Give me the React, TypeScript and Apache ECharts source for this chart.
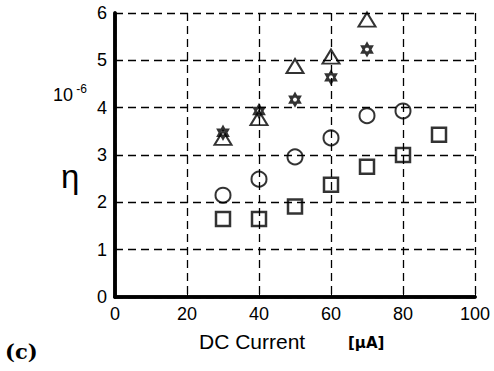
import React, { useEffect, useRef } from "react";
import * as echarts from "echarts";

const xTicks = [0, 20, 40, 60, 80, 100];
const yTicks = [0, 1, 2, 3, 4, 5, 6];

const triangleX = [30, 40, 50, 60, 70];
const triangleY = [3.36, 3.78, 4.88, 5.08, 5.86];
const starX = [30, 40, 50, 60, 70];
const starY = [3.47, 3.93, 4.17, 4.64, 5.23];
const circleX = [30, 40, 50, 60, 70, 80];
const circleY = [2.15, 2.49, 2.96, 3.36, 3.83, 3.93];
const squareX = [30, 40, 50, 60, 70, 80, 90];
const squareY = [1.65, 1.65, 1.91, 2.37, 2.75, 3.0, 3.43];

const hexagram =
  "path://M0,-1 L0.866,0.5 L-0.866,0.5 Z M0,1 L0.866,-0.5 L-0.866,-0.5 Z";

const pairs = (xs: number[], ys: number[]) => xs.map((x, i) => [x, ys[i]]);

const FONT = "Liberation Sans";

export default function App() {
  const ref = useRef<HTMLDivElement>(null);
  useEffect(() => {
    document.body.style.margin = "0";
    if (!ref.current) return;
    const chart = echarts.init(ref.current, null, { renderer: "svg" });
    const gridLine = {
      show: true,
      lineStyle: { color: "#000", type: [8, 5] as any, width: 1.3 },
    };
    const frameAxis = {
      type: "value",
      axisLine: { show: true, lineStyle: { color: "#000", width: 3.5 } },
      axisTick: { show: false },
      axisLabel: { show: false },
      splitLine: { show: false },
    };
    chart.setOption({
      animation: false,
      backgroundColor: "#fff",
      grid: { left: 115, right: 19, top: 13, bottom: 74 },
      xAxis: [
        {
          type: "value",
          min: xTicks[0],
          max: xTicks[xTicks.length - 1],
          interval: 20,
          axisLine: { show: true, lineStyle: { color: "#000", width: 3.5 } },
          axisTick: { show: true, inside: true, length: 5, lineStyle: { color: "#000", width: 1 } },
          axisLabel: { color: "#000", fontSize: 18, fontFamily: FONT, margin: 8 },
          splitLine: gridLine,
        },
        { ...frameAxis, position: "top", min: 0, max: 100 },
      ],
      yAxis: [
        {
          type: "value",
          min: yTicks[0],
          max: yTicks[yTicks.length - 1],
          interval: 1,
          axisLine: { show: true, lineStyle: { color: "#000", width: 3.5 } },
          axisTick: { show: true, inside: true, length: 5, lineStyle: { color: "#000", width: 1 } },
          axisLabel: { color: "#000", fontSize: 18, fontFamily: FONT, margin: 8 },
          splitLine: gridLine,
        },
        { ...frameAxis, position: "right", min: 0, max: 6 },
      ],
      series: [
        {
          type: "scatter",
          data: pairs(squareX, squareY),
          symbol: "rect",
          symbolSize: 14,
          itemStyle: { color: "none", borderColor: "#000", borderWidth: 2.5 },
          z: 3,
        },
        {
          type: "scatter",
          data: pairs(circleX, circleY),
          symbol: "circle",
          symbolSize: 15,
          itemStyle: { color: "none", borderColor: "#000", borderWidth: 2 },
          z: 3,
        },
        {
          type: "scatter",
          data: pairs(triangleX, triangleY),
          symbol: "triangle",
          symbolSize: [17, 14],
          itemStyle: { color: "none", borderColor: "#000", borderWidth: 2 },
          z: 3,
        },
        {
          type: "scatter",
          data: pairs(starX, starY),
          symbol: hexagram,
          symbolSize: [10, 12],
          itemStyle: { color: "none", borderColor: "#000", borderWidth: 2.2 },
          z: 4,
        },
      ],
      graphic: [
        {
          type: "text",
          left: 199,
          top: 331,
          style: { text: "DC Current", font: `21px ${FONT}`, fill: "#000" },
        },
        {
          type: "text",
          left: 348,
          top: 335,
          style: { text: "[μA]", font: `bold 15px DejaVu Sans`, fill: "#000" },
        },
        {
          type: "text",
          left: 5,
          top: 341,
          style: { text: "(c)", font: `bold 21px DejaVu Serif`, fill: "#000" },
        },
        {
          type: "text",
          left: 61,
          top: 160,
          style: { text: "η", font: `33px ${FONT}`, fill: "#000" },
        },
        {
          type: "text",
          left: 53,
          top: 83,
          style: {
            text: "{a|10} {b|-6}",
            rich: {
              a: { fontSize: 18, fontFamily: FONT, color: "#000", verticalAlign: "bottom" },
              b: { fontSize: 12, fontFamily: FONT, color: "#000", verticalAlign: "top", padding: [0, 0, 9, 0] },
            },
          },
        },
      ],
    });
    return () => chart.dispose();
  }, []);
  return <div ref={ref} style={{ width: 494, height: 371 }} />;
}
